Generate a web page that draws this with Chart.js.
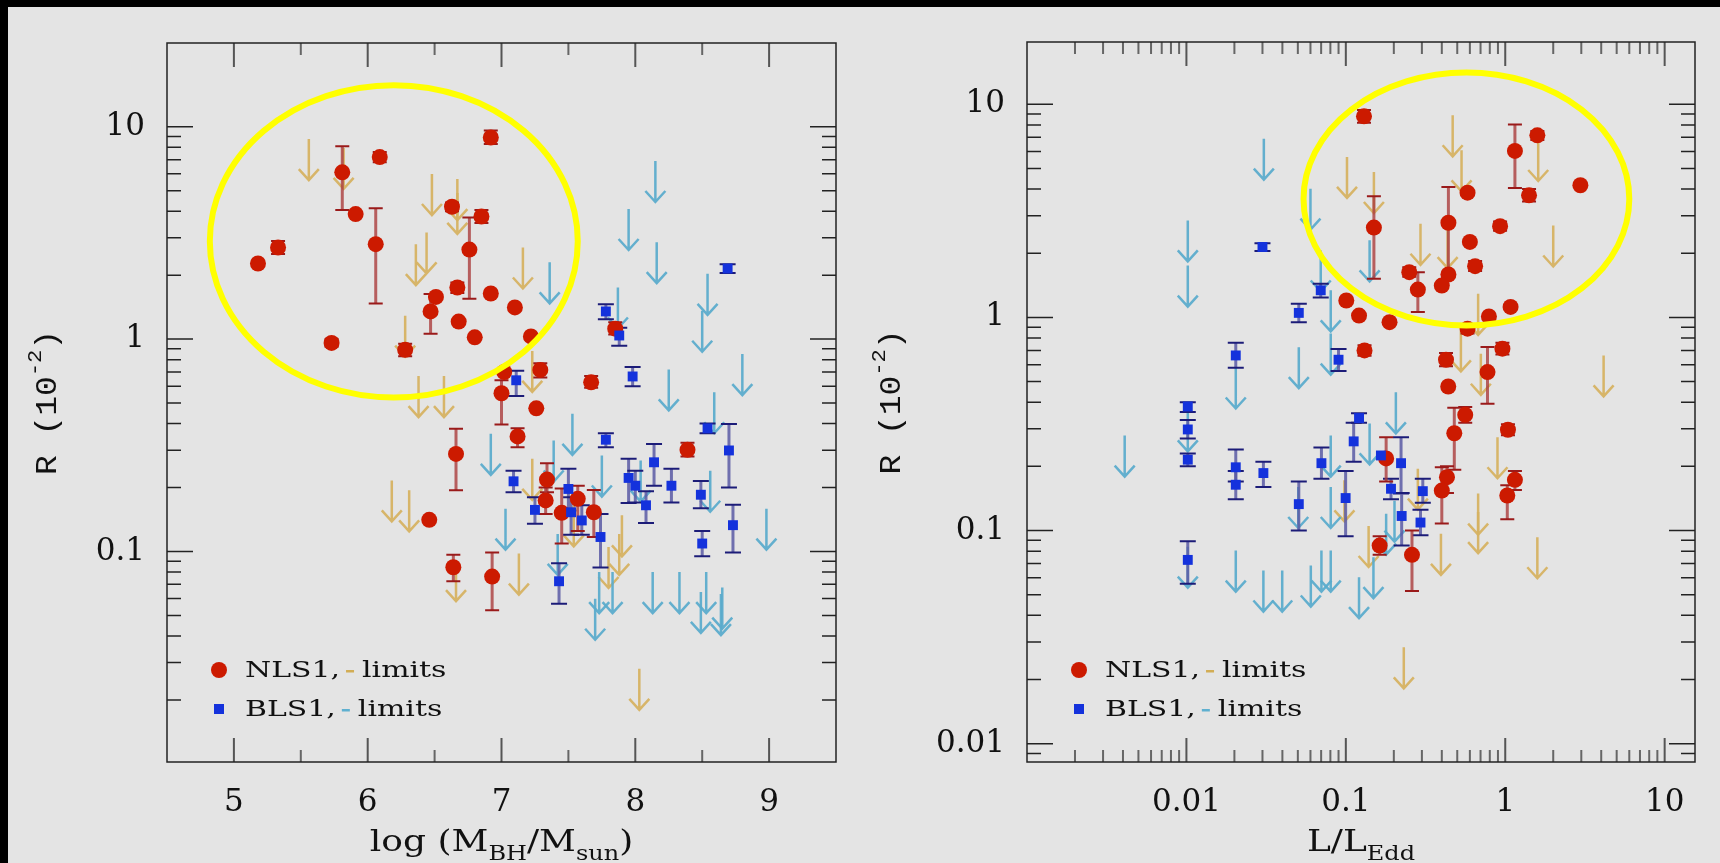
<!DOCTYPE html>
<html>
<head>
<meta charset="utf-8">
<script src="https://cdn.jsdelivr.net/npm/chart.js@4.4.1/dist/chart.umd.min.js"></script>
<style>
  body { margin: 0; background: #000; width: 1720px; height: 863px; overflow: hidden; }
  #panel { position: absolute; left: 8px; top: 7px; width: 1712px; height: 856px; background: #e4e4e4; }
  canvas { position: absolute; top: 0; }
  #massChart { left: 0; }
  #eddChart { left: 860px; }
</style>
</head>
<body>
<div id="panel"></div>
<canvas id="massChart" width="860" height="863"></canvas>
<canvas id="eddChart" width="860" height="863"></canvas>
<script>
// tick labels
const massTicks = [5, 6, 7, 8, 9];
const eddTicks = [0.01, 0.1, 1, 10];
const rTicksMass = [0.1, 1, 10];
const rTicksEdd = [0.01, 0.1, 1, 10];

// detections: [x, R, R low, R high] (null = no bar)
const nlsMass = [
  [6.92, 8.9, 8.3, 9.6], [6.09, 7.2, 6.8, 7.6], [5.81, 6.1, 4.06, 8.1], [5.91, 3.88, null, null],
  [6.06, 2.8, 1.47, 4.13], [5.33, 2.7, 2.52, 2.9], [5.18, 2.27, null, null], [5.73, 0.96, 0.92, 1.0],
  [6.28, 0.89, 0.83, 0.95], [6.63, 4.2, 4.0, 4.4], [6.85, 3.78, 3.52, 4.05], [6.76, 2.64, 1.55, 3.74],
  [6.67, 1.75, 1.65, 1.85], [6.51, 1.58, null, null], [6.47, 1.35, 1.06, 1.63], [6.92, 1.64, null, null],
  [6.68, 1.21, null, null], [6.8, 1.02, null, null], [7.1, 1.41, null, null], [7.22, 1.03, null, null],
  [7.02, 0.7, null, null], [7.29, 0.716, 0.66, 0.77], [7.67, 0.626, 0.59, 0.67], [7.85, 1.12, 1.05, 1.2],
  [7.0, 0.556, 0.396, 0.64], [7.26, 0.472, null, null], [7.12, 0.348, 0.31, 0.38], [6.66, 0.288, 0.194, 0.378],
  [6.46, 0.141, null, null], [6.64, 0.0843, 0.0725, 0.0964], [6.93, 0.0762, 0.0528, 0.099],
  [7.34, 0.218, 0.19, 0.26], [7.33, 0.174, 0.15, 0.2], [7.45, 0.152, 0.109, 0.198],
  [7.57, 0.177, 0.125, 0.204], [7.69, 0.153, 0.117, 0.195], [8.39, 0.301, 0.28, 0.325]
];
const blsMass = [
  [8.69, 2.15, 2.05, 2.25], [7.78, 1.35, 1.24, 1.46], [7.88, 1.04, 0.93, 1.13], [7.98, 0.667, 0.6, 0.74],
  [7.11, 0.64, 0.54, 0.71], [7.09, 0.214, 0.19, 0.24], [7.25, 0.157, 0.135, 0.18], [7.5, 0.197, 0.156, 0.245],
  [7.52, 0.153, 0.12, 0.18], [7.43, 0.0724, 0.0567, 0.088], [7.78, 0.336, 0.31, 0.36], [8.54, 0.38, 0.36, 0.4],
  [8.7, 0.299, 0.2, 0.398], [8.14, 0.263, 0.204, 0.321], [7.95, 0.222, 0.169, 0.273], [8.0, 0.204, 0.17, 0.24],
  [8.27, 0.204, 0.17, 0.245], [8.08, 0.165, 0.136, 0.192], [8.49, 0.185, 0.16, 0.215], [8.73, 0.133, 0.099, 0.166],
  [8.5, 0.109, 0.095, 0.125], [7.74, 0.117, 0.084, 0.15], [7.6, 0.14, 0.12, 0.165]
];
// upper limits: [x, R]
const nlsMassLim = [
  [5.56, 8.75], [5.82, 7.95], [6.48, 5.99], [6.67, 5.67], [6.67, 4.88], [6.44, 3.18], [6.36, 2.8],
  [6.28, 1.29], [6.38, 0.67], [6.57, 0.67], [7.16, 2.7], [7.23, 0.88], [6.18, 0.216], [6.31, 0.194],
  [6.66, 0.091], [7.13, 0.0977], [7.23, 0.273], [7.9, 0.148], [7.88, 0.121], [7.8, 0.105], [8.03, 0.028],
  [7.54, 0.165]
];
const blsMassLim = [
  [7.36, 2.3], [8.15, 6.9], [7.95, 4.1], [8.16, 2.86], [8.54, 2.03], [8.5, 1.36], [7.87, 1.75], [8.8, 0.85],
  [8.25, 0.72], [6.92, 0.358], [7.03, 0.159], [7.53, 0.445], [7.39, 0.333], [7.42, 0.121], [8.59, 0.562],
  [7.75, 0.283], [8.04, 0.268], [8.56, 0.24], [8.98, 0.159], [7.73, 0.08], [7.83, 0.08], [7.7, 0.0599],
  [8.13, 0.08], [8.33, 0.08], [8.53, 0.08], [8.49, 0.0645], [8.65, 0.0676], [8.64, 0.063]
];

const nlsEdd = [
  [0.13, 8.78, 8.2, 9.4], [0.15, 2.64, 1.52, 3.7], [0.1007, 1.2, null, null], [0.121, 1.02, null, null],
  [0.131, 0.7, 0.66, 0.74], [1.15, 6.04, 4.05, 8.03], [1.59, 7.15, 6.8, 7.5], [2.96, 4.17, null, null],
  [1.41, 3.74, 3.5, 4.0], [0.58, 3.85, null, null], [0.928, 2.68, 2.55, 2.82], [0.44, 2.78, 1.55, 4.09],
  [0.6, 2.26, null, null], [0.647, 1.74, 1.65, 1.84], [0.25, 1.63, 1.55, 1.72], [0.283, 1.35, 1.06, 1.63],
  [0.44, 1.59, null, null], [0.4, 1.41, null, null], [0.188, 0.95, null, null], [1.08, 1.12, null, null],
  [0.79, 1.01, null, null], [0.58, 0.885, 0.84, 0.93], [0.425, 0.633, 0.59, 0.68], [0.96, 0.713, 0.67, 0.76],
  [0.774, 0.554, 0.393, 0.726], [0.439, 0.474, null, null], [0.561, 0.349, 0.32, 0.38], [0.479, 0.286, 0.193, 0.377],
  [1.04, 0.297, 0.28, 0.315], [0.431, 0.178, 0.15, 0.2], [0.4, 0.154, 0.108, 0.198], [1.15, 0.173, 0.155, 0.19],
  [1.03, 0.146, 0.113, 0.163], [0.179, 0.218, 0.17, 0.274], [0.163, 0.085, 0.077, 0.094], [0.26, 0.0769, 0.052, 0.1]
];
const blsEdd = [
  [0.03, 2.14, 2.05, 2.23], [0.0696, 1.34, 1.24, 1.44], [0.0507, 1.05, 0.95, 1.16], [0.09, 0.633, 0.56, 0.71],
  [0.0204, 0.663, 0.58, 0.76], [0.0102, 0.382, 0.36, 0.4], [0.0102, 0.298, 0.27, 0.33], [0.0102, 0.215, 0.2, 0.23],
  [0.0102, 0.0728, 0.0562, 0.089], [0.0204, 0.198, 0.17, 0.24], [0.0204, 0.164, 0.14, 0.19], [0.0304, 0.186, 0.16, 0.21],
  [0.0507, 0.133, 0.1, 0.17], [0.0703, 0.207, 0.175, 0.245], [0.0997, 0.142, 0.094, 0.19], [0.112, 0.262, 0.21, 0.32],
  [0.121, 0.337, 0.32, 0.355], [0.222, 0.207, 0.149, 0.274], [0.192, 0.157, 0.14, 0.175], [0.224, 0.117, 0.085, 0.15],
  [0.304, 0.153, 0.135, 0.175], [0.294, 0.109, 0.095, 0.125], [0.166, 0.225, null, null]
];
const nlsEddLim = [
  [0.468, 8.88], [0.532, 6.08], [0.294, 2.75], [0.435, 2.65], [1.61, 6.8], [2.0, 2.7], [0.676, 1.29],
  [0.527, 0.869], [0.703, 0.675], [4.14, 0.663], [0.1017, 5.66], [0.15, 4.81], [0.894, 0.274], [0.676, 0.149],
  [0.676, 0.122], [0.395, 0.0965], [1.59, 0.093], [0.231, 0.0283], [0.283, 0.195], [0.098, 0.172], [0.139, 0.105]
];
const blsEddLim = [
  [0.0306, 6.9], [0.0102, 2.85], [0.0102, 1.75], [0.06, 4.02], [0.0804, 1.34], [0.0804, 0.84], [0.0507, 0.725],
  [0.141, 2.3], [0.0696, 2.06], [0.0041, 0.279], [0.0204, 0.582], [0.0102, 0.366], [0.0102, 0.084], [0.0204, 0.0805],
  [0.0304, 0.0649], [0.0399, 0.0649], [0.0603, 0.0685], [0.0703, 0.0805], [0.0804, 0.0805], [0.121, 0.0604],
  [0.0503, 0.16], [0.0804, 0.279], [0.0804, 0.16], [0.141, 0.318], [0.149, 0.075], [0.206, 0.445], [0.202, 0.138],
  [0.179, 0.12]
];

// yellow rings: [x from, x to, R from, R to]
const ringMass = [4.82, 7.57, 0.531, 15.7];
const ringEdd = [0.0543, 6.0, 0.916, 14.1];

const RED = '#cc1a00', BLUE = '#1432dc', GOLD = 'rgba(214,178,98,0.95)', CYAN = 'rgba(92,172,204,0.95)';

function logMinor(from, to) {
  const out = [];
  for (let d = from; d < to; d *= 10) for (let k = 2; k <= 9; k++) out.push(d * k);
  return out;
}

function textRun(ctx, parts, x, y, sx) {
  // parts: [text, font, dy]
  ctx.save();
  ctx.translate(x, y);
  ctx.scale(sx, 1);
  let cx = 0;
  parts.forEach(([t, f, dy]) => { ctx.font = f; ctx.fillText(t, cx, dy); cx += ctx.measureText(t).width; });
  ctx.restore();
  return cx * sx;
}
function runWidth(ctx, parts, sx) {
  let w = 0;
  parts.forEach(([t, f]) => { ctx.font = f; w += ctx.measureText(t).width; });
  return w * sx;
}

const extras = {
  id: 'extras',
  beforeDatasetsDraw(chart, args, o) {
    const { ctx, chartArea: a, scales: { x, y } } = chart;
    ctx.save();
    ctx.beginPath();
    ctx.rect(a.left, a.top, a.right - a.left, a.bottom - a.top);
    ctx.clip();
    chart.data.datasets.forEach(ds => {
      if (ds.limit) {
        ctx.strokeStyle = ds.arrowColor;
        ctx.lineWidth = 2.5;
        ds.data.forEach(p => {
          const px = x.getPixelForValue(p.x), py = y.getPixelForValue(p.y), tip = py + 41;
          ctx.beginPath();
          ctx.moveTo(px, py); ctx.lineTo(px, tip);
          ctx.moveTo(px - 10, tip - 11); ctx.lineTo(px, tip); ctx.lineTo(px + 10, tip - 11);
          ctx.stroke();
        });
      } else if (ds.barColor) {
        ds.data.forEach(p => {
          if (p.lo == null) return;
          const px = x.getPixelForValue(p.x), pl = y.getPixelForValue(p.lo), ph = y.getPixelForValue(p.hi);
          ctx.strokeStyle = ds.barColor; ctx.lineWidth = 3;
          ctx.beginPath(); ctx.moveTo(px, ph); ctx.lineTo(px, pl); ctx.stroke();
          ctx.strokeStyle = ds.capColor; ctx.lineWidth = 2;
          ctx.beginPath();
          ctx.moveTo(px - ds.capW, ph); ctx.lineTo(px + ds.capW, ph);
          ctx.moveTo(px - ds.capW, pl); ctx.lineTo(px + ds.capW, pl);
          ctx.stroke();
        });
      }
    });
    ctx.restore();
  },
  afterDatasetsDraw(chart, args, o) {
    const { ctx, scales: { x, y } } = chart;
    const [x0, x1, y0, y1] = o.ring;
    const l = x.getPixelForValue(x0), r = x.getPixelForValue(x1);
    const t = y.getPixelForValue(y1), b = y.getPixelForValue(y0);
    ctx.save();
    ctx.strokeStyle = '#ffff00';
    ctx.lineWidth = 6;
    ctx.beginPath();
    ctx.ellipse((l + r) / 2, (t + b) / 2, (r - l) / 2, (b - t) / 2, 0, 0, 2 * Math.PI);
    ctx.stroke();
    ctx.restore();
  },
  afterDraw(chart, args, o) {
    const { ctx, chartArea: a, scales: { x, y } } = chart;
    ctx.save();
    // inward ticks on all sides
    const tick = (v, axis, len, color, w) => {
      ctx.strokeStyle = color; ctx.lineWidth = w;
      ctx.beginPath();
      if (axis === 'x') {
        const p = x.getPixelForValue(v);
        if (p < a.left + 1 || p > a.right - 1) return;
        ctx.moveTo(p, a.bottom); ctx.lineTo(p, a.bottom - len);
        ctx.moveTo(p, a.top); ctx.lineTo(p, a.top + len);
      } else {
        const p = y.getPixelForValue(v);
        if (p < a.top + 1 || p > a.bottom - 1) return;
        ctx.moveTo(a.left, p); ctx.lineTo(a.left + len, p);
        ctx.moveTo(a.right, p); ctx.lineTo(a.right - len, p);
      }
      ctx.stroke();
    };
    o.xMajor.forEach(v => tick(v, 'x', 24, '#555', 2));
    o.xMinor.forEach(v => tick(v, 'x', 12, '#666', 2));
    o.yMajor.forEach(v => tick(v, 'y', 26, '#222', 1.5));
    o.yMinor.forEach(v => tick(v, 'y', 14, '#222', 1.5));
    ctx.strokeStyle = '#222'; ctx.lineWidth = 1.5;
    ctx.strokeRect(a.left, a.top, a.right - a.left, a.bottom - a.top);

    // legend
    const lx = a.left + 52, ly1 = a.bottom - 92, ly2 = a.bottom - 53;
    ctx.fillStyle = RED;
    ctx.beginPath(); ctx.arc(lx, ly1, 8, 0, 2 * Math.PI); ctx.fill();
    ctx.fillStyle = BLUE;
    ctx.fillRect(lx - 5, ly2 - 5, 10, 10);
    ctx.textBaseline = 'middle';
    ctx.fillStyle = '#111';
    const lf = '23px "DejaVu Serif"';
    [[ly1, 'NLS1,', '#d2ad55'], [ly2, 'BLS1,', '#5fb0d0']].forEach(([ly, name, dash]) => {
      ctx.fillStyle = '#111';
      const w = textRun(ctx, [[name, lf, 0]], a.left + 78, ly + 1, 1.3);
      ctx.fillStyle = dash;
      ctx.fillRect(a.left + 78 + w + 6, ly, 8, 2.5);
      ctx.fillStyle = '#111';
      textRun(ctx, [['limits', lf, 0]], a.left + 78 + w + 22, ly + 1, 1.3);
    });

    // axis titles
    ctx.fillStyle = '#111';
    ctx.textBaseline = 'alphabetic';
    const big = '30px "DejaVu Serif"', sub = '20px "DejaVu Serif"';
    const parts = o.xTitle.map(([t, s]) => [t, s ? sub : big, s ? 9 : 0]);
    const tw = runWidth(ctx, parts, 1.2);
    textRun(ctx, parts, (a.left + a.right) / 2 - tw / 2, a.bottom + 89, 1.2);

    const yParts = [['R (10', '30px "Liberation Mono"', 0], ['-2', '20px "Liberation Mono"', -12], [')', '30px "Liberation Mono"', 0]];
    ctx.save();
    ctx.translate(a.left - o.yTitleOff, (a.top + a.bottom) / 2);
    ctx.rotate(-Math.PI / 2);
    ctx.textBaseline = 'middle';
    const yw = runWidth(ctx, yParts, 1.1);
    textRun(ctx, yParts, -yw / 2, 0, 1.1);
    ctx.restore();
    ctx.restore();
  }
};

function pts(arr) {
  return arr.map(d => ({ x: d[0], y: d[1], lo: d[2], hi: d[3] }));
}

function makeChart(id, cfg) {
  const tickFont = { family: 'DejaVu Serif', size: 31 };
  return new Chart(document.getElementById(id), {
    type: 'scatter',
    data: {
      datasets: [
        { label: 'NLS1 limits', data: pts(cfg.nlsLim), pointRadius: 0, limit: true, arrowColor: GOLD },
        { label: 'BLS1 limits', data: pts(cfg.blsLim), pointRadius: 0, limit: true, arrowColor: CYAN },
        { label: 'BLS1', data: pts(cfg.bls), pointStyle: 'rect', pointRadius: 7, backgroundColor: BLUE,
          borderWidth: 0, barColor: 'rgba(90,90,165,0.85)', capColor: '#1c1c78', capW: 8 },
        { label: 'NLS1', data: pts(cfg.nls), pointStyle: 'circle', pointRadius: 8, backgroundColor: RED,
          borderWidth: 0, barColor: 'rgba(170,60,60,0.8)', capColor: '#9a1a1a', capW: 7 }
      ]
    },
    options: {
      responsive: false,
      animation: false,
      events: [],
      layout: { padding: { left: 0, top: cfg.top, right: cfg.right, bottom: 0 } },
      plugins: {
        legend: { display: false },
        tooltip: { enabled: false },
        extras: cfg.extras
      },
      scales: {
        x: {
          type: cfg.xType, min: cfg.xMin, max: cfg.xMax,
          afterFit: s => { s.height = 101; },
          afterBuildTicks: s => { s.ticks = cfg.xTicks.map(v => ({ value: v })); },
          ticks: { font: tickFont, color: '#111', padding: 22, maxRotation: 0, autoSkip: false, callback: v => String(v) },
          grid: { display: false, drawTicks: false },
          border: { display: false }
        },
        y: {
          type: 'logarithmic', min: cfg.yMin, max: cfg.yMax,
          afterFit: s => { s.width = 167; },
          afterBuildTicks: s => { s.ticks = cfg.yTicks.map(v => ({ value: v })); },
          ticks: { font: tickFont, color: '#111', padding: 22, autoSkip: false, callback: v => String(v) },
          grid: { display: false, drawTicks: false },
          border: { display: false }
        }
      }
    },
    plugins: [extras]
  });
}

makeChart('massChart', {
  nls: nlsMass, bls: blsMass, nlsLim: nlsMassLim, blsLim: blsMassLim,
  xType: 'linear', xMin: 4.5, xMax: 9.5, xTicks: massTicks,
  yMin: 0.0102, yMax: 24.8, yTicks: rTicksMass,
  top: 43, right: 24,
  extras: {
    ring: ringMass,
    xMajor: massTicks, xMinor: [5.5, 6.5, 7.5, 8.5],
    yMajor: [0.1, 1, 10], yMinor: logMinor(0.01, 10),
    xTitle: [['log (M', 0], ['BH', 1], ['/M', 0], ['sun', 1], [')', 0]],
    yTitleOff: 119
  }
});

makeChart('eddChart', {
  nls: nlsEdd, bls: blsEdd, nlsLim: nlsEddLim, blsLim: blsEddLim,
  xType: 'logarithmic', xMin: 0.001, xMax: 15.5, xTicks: eddTicks,
  yMin: 0.0082, yMax: 19.6, yTicks: rTicksEdd,
  top: 42, right: 25,
  extras: {
    ring: ringEdd,
    xMajor: eddTicks, xMinor: logMinor(0.001, 10),
    yMajor: [0.01, 0.1, 1, 10], yMinor: logMinor(0.001, 10),
    xTitle: [['L/L', 0], ['Edd', 1]],
    yTitleOff: 135
  }
});
</script>
</body>
</html>
